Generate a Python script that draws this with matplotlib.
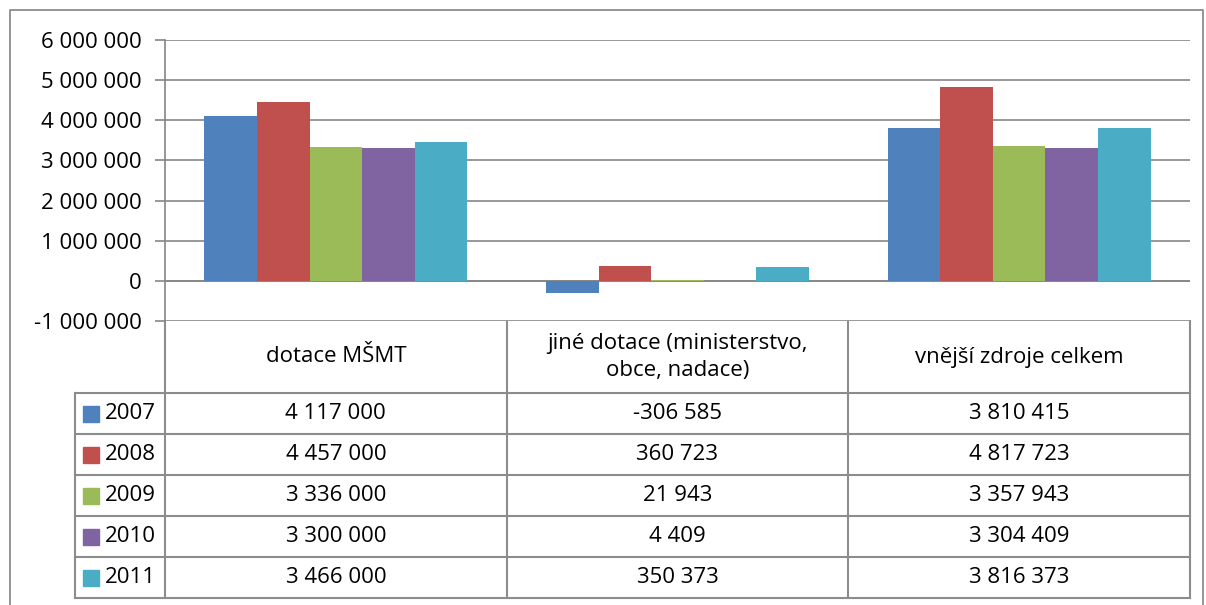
import matplotlib.pyplot as plt
import numpy as np

categories = ['dotace MŠMT', 'jiné dotace (ministerstvo,\nobce, nadace)', 'vnější zdroje celkem']
years = ['2007', '2008', '2009', '2010', '2011']
values = {
    '2007': [4117000, -306585, 3810415],
    '2008': [4457000, 360723, 4817723],
    '2009': [3336000, 21943, 3357943],
    '2010': [3300000, 4409, 3304409],
    '2011': [3466000, 350373, 3816373],
}
colors = ['#4F81BD', '#C0504D', '#9BBB59', '#8064A2', '#4BACC6']
yticks = np.arange(-1000000, 6000001, 1000000)


def fmt(v):
    s = '{:,}'.format(int(v)).replace(',', ' ')
    return s


W, H = 1206, 605
fs = 16
plt.rcParams['font.family'] = ['Open Sans', 'DejaVu Sans']
fig = plt.figure(figsize=(W / 100, H / 100), dpi=100)

# pixel layout of the plot area
x0, x1 = 165, 1190
ytop, ybot = 40, 321
ax = fig.add_axes([x0 / W, (H - ybot) / H, (x1 - x0) / W, (ybot - ytop) / H])

ncat = len(categories)
xs = np.arange(ncat)
group = 0.77
bw = group / len(years)
for i, yr in enumerate(years):
    off = -group / 2 + bw * (i + 0.5)
    ax.bar(xs + off, values[yr], width=bw, color=colors[i], zorder=3)

ax.set_xlim(-0.5, ncat - 0.5)
ax.set_ylim(yticks[0], yticks[-1])
ax.set_yticks(yticks)
ax.set_yticklabels([fmt(t) for t in yticks], fontsize=fs)
ax.set_xticks([])
ax.grid(axis='y', color='#868686', linewidth=1.2, zorder=0)
for s in ['top', 'right', 'bottom']:
    ax.spines[s].set_visible(False)
ax.spines['left'].set_color('#868686')
ax.spines['left'].set_linewidth(1.2)
ax.tick_params(axis='y', length=7, width=1.2, color='#868686', pad=10)
ax.axhline(0, color='#868686', linewidth=1.2, zorder=2)

# overlay in pixel coordinates for the data table and the chart border
ov = fig.add_axes([0, 0, 1, 1], zorder=-1)
ov.set_xlim(0, W)
ov.set_ylim(H, 0)
ov.axis('off')
lc = '#8c8c8c'
lw = 1.5

# chart border
ov.plot([10, 10, 1203, 1203], [H, 10, 10, H], color=lc, linewidth=1.3)

col_edges = [x0 + (x1 - x0) * k / ncat for k in range(ncat + 1)]
row_edges = [321, 393, 434, 475, 516, 557, 598]
leg_left = 75

for xe in col_edges:
    ov.plot([xe, xe], [row_edges[0], row_edges[-1]], color=lc, linewidth=lw)
ov.plot([leg_left, leg_left], [row_edges[1], row_edges[-1]], color=lc, linewidth=lw)
for ye in row_edges[1:]:
    ov.plot([leg_left, x1], [ye, ye], color=lc, linewidth=lw)

for k, cat in enumerate(categories):
    cx = (col_edges[k] + col_edges[k + 1]) / 2
    ov.text(cx, (row_edges[0] + row_edges[1]) / 2, cat, ha='center', va='center',
            fontsize=fs, linespacing=1.4)

for i, yr in enumerate(years):
    cy = (row_edges[i + 1] + row_edges[i + 2]) / 2
    ov.add_patch(plt.Rectangle((83, cy - 8), 16, 16, color=colors[i]))
    ov.text(105, cy, yr, ha='left', va='center', fontsize=fs)
    for k in range(ncat):
        cx = (col_edges[k] + col_edges[k + 1]) / 2
        ov.text(cx, cy, fmt(values[yr][k]), ha='center', va='center', fontsize=fs)

fig.savefig('out.png', dpi=100)
